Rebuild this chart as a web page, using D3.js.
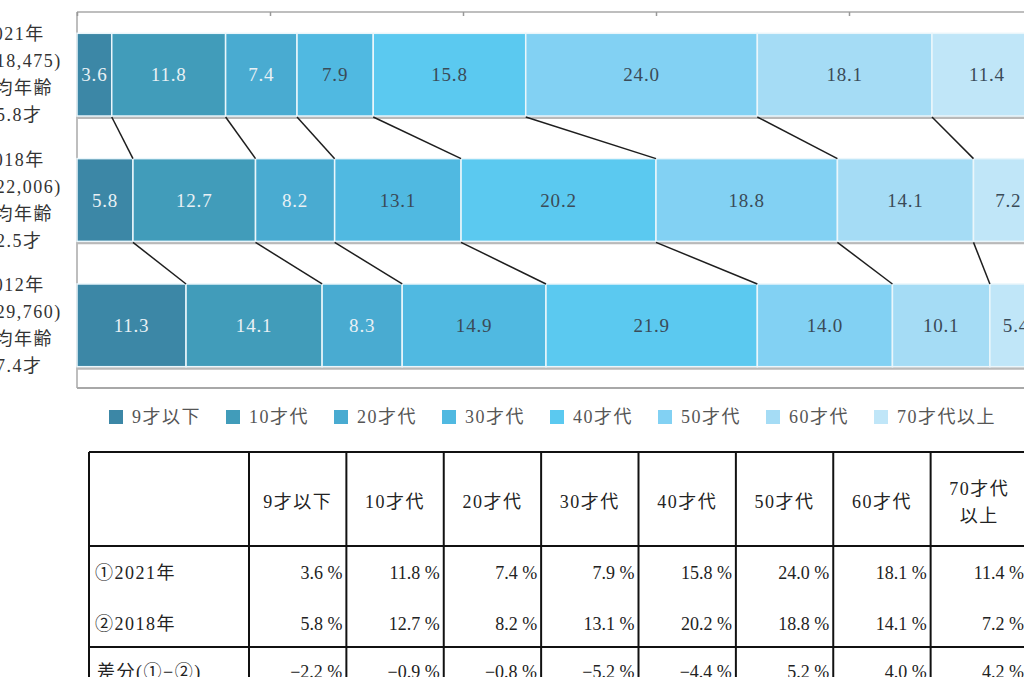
<!DOCTYPE html>
<html>
<head>
<meta charset="utf-8">
<script src="https://cdn.jsdelivr.net/npm/d3@7"></script>
<style>
  html, body { margin: 0; padding: 0; background: #fff; overflow: hidden; }
  svg { display: block; }
  text { font-family: "Liberation Serif", "Noto Sans CJK JP", serif; }
</style>
</head>
<body>
<svg id="chart" width="1024" height="677"></svg>
<script>
const categories = ['9才以下', '10才代', '20才代', '30才代', '40才代', '50才代', '60才代', '70才代以上'];
const headerLabels = [['9才以下'], ['10才代'], ['20才代'], ['30才代'], ['40才代'], ['50才代'], ['60才代'], ['70才代', '以上']];
const years = ['2021年', '2018年', '2012年'];
const sampleSizes = ['(n=18,475)', '(n=22,006)', '(n=29,760)'];
const meanAges = ['45.8才', '42.5才', '37.4才'];
const values2021 = [3.6, 11.8, 7.4, 7.9, 15.8, 24.0, 18.1, 11.4];
const values2018 = [5.8, 12.7, 8.2, 13.1, 20.2, 18.8, 14.1, 7.2];
const values2012 = [11.3, 14.1, 8.3, 14.9, 21.9, 14.0, 10.1, 5.4];
const diffValues = [-2.2, -0.9, -0.8, -5.2, -4.4, 5.2, 4.0, 4.2];
const tableRows = ['①2021年', '②2018年'];
const diffLabel = '差分(①−②)';
const xTicks = [0, 20, 40, 60, 80, 100];

const colors = ['#3c87a6', '#419cba', '#49abd1', '#50b9e1', '#5bc9f0', '#82d1f3', '#a5dcf5', '#c0e6f8'];

const series = [values2021, values2018, values2012];

const svg = d3.select('#chart');

// plot area
const plotLeft = 77, plotTop = 12, plotBottom = 388;
const xScale = d3.scaleLinear().domain([0, 100]).range([plotLeft, 1042]);
const yScale = d3.scaleBand().domain(years).range([plotTop, plotBottom]).paddingInner(0.34).paddingOuter(0.17);

// frame
svg.append('line').attr('x1', plotLeft).attr('x2', 1024).attr('y1', plotTop).attr('y2', plotTop)
  .attr('stroke', '#a8a8a8').attr('stroke-width', 1.5);
svg.append('line').attr('x1', plotLeft).attr('x2', 1024).attr('y1', plotBottom).attr('y2', plotBottom)
  .attr('stroke', '#a8a8a8').attr('stroke-width', 2);
svg.append('line').attr('x1', plotLeft).attr('x2', plotLeft).attr('y1', plotTop).attr('y2', plotBottom)
  .attr('stroke', '#a8a8a8').attr('stroke-width', 1.5);

const xAxis = d3.axisTop(xScale).tickValues(xTicks).tickSize(-4).tickFormat('');
const axisG = svg.append('g').attr('transform', `translate(0,${plotTop})`).call(xAxis);
axisG.select('.domain').remove();
axisG.selectAll('line').attr('stroke', '#999').attr('stroke-width', 1.5);

// bar shadow lines
svg.selectAll('.shadow').data(years).enter().append('line')
  .attr('class', 'shadow')
  .attr('x1', plotLeft).attr('x2', 1024)
  .attr('y1', d => yScale(d) + yScale.bandwidth() + 1.5)
  .attr('y2', d => yScale(d) + yScale.bandwidth() + 1.5)
  .attr('stroke', '#b9b9b9').attr('stroke-width', 3);

// stacked segments
const rows = years.map((y, i) => {
  let acc = 0;
  return series[i].map((v, j) => {
    const seg = { year: y, cat: j, value: v, x0: acc, x1: acc + v };
    acc += v;
    return seg;
  });
});

const rowG = svg.selectAll('.row').data(rows).enter().append('g').attr('class', 'row');

rowG.selectAll('rect').data(d => d).enter().append('rect')
  .attr('x', d => xScale(d.x0))
  .attr('y', d => yScale(d.year))
  .attr('width', d => xScale(d.x1) - xScale(d.x0))
  .attr('height', yScale.bandwidth())
  .attr('fill', d => colors[d.cat])
  .attr('stroke', '#eaf6fb')
  .attr('stroke-width', 1.5);

rowG.selectAll('text').data(d => d).enter().append('text')
  .attr('x', d => (xScale(d.x0) + xScale(d.x1)) / 2)
  .attr('y', d => yScale(d.year) + yScale.bandwidth() / 2)
  .attr('dy', '0.35em')
  .attr('text-anchor', 'middle')
  .attr('font-size', 19)
  .attr('letter-spacing', 0.8)
  .attr('fill', d => d.cat < 3 ? '#e9f1f5' : '#3a4b58')
  .text(d => d.value.toFixed(1));

// connector lines between boundaries
const links = [];
for (let i = 0; i < rows.length - 1; i++) {
  for (let j = 0; j < categories.length - 1; j++) {
    links.push({ from: rows[i][j], to: rows[i + 1][j] });
  }
}
svg.selectAll('.link').data(links).enter().append('line')
  .attr('class', 'link')
  .attr('x1', d => xScale(d.from.x1))
  .attr('y1', d => yScale(d.from.year) + yScale.bandwidth() + 1)
  .attr('x2', d => xScale(d.to.x1))
  .attr('y2', d => yScale(d.to.year))
  .attr('stroke', '#1e1e1e').attr('stroke-width', 1.5);

// left labels
years.forEach((y, i) => {
  const cy = yScale(y) + yScale.bandwidth() / 2;
  const lines = [y, sampleSizes[i], '平均年齢', meanAges[i]];
  svg.append('g').selectAll('text').data(lines).enter().append('text')
    .attr('x', 14)
    .attr('y', (d, k) => cy + (k - 1.5) * 27)
    .attr('dy', '0.35em')
    .attr('text-anchor', 'middle')
    .attr('font-size', 18)
    .attr('letter-spacing', 1.5)
    .attr('fill', '#333')
    .text(d => d);
});

// legend
const legend = svg.append('g').attr('transform', 'translate(109,417)');
let lx = 0;
categories.forEach((c, i) => {
  const g = legend.append('g').attr('transform', `translate(${lx},0)`);
  g.append('rect').attr('x', 0).attr('y', -7).attr('width', 14).attr('height', 14).attr('fill', colors[i]);
  const t = g.append('text').attr('x', 23).attr('y', 0).attr('dy', '0.35em')
    .attr('font-size', 18).attr('letter-spacing', 1.5).attr('fill', '#555').text(c);
  lx += 23 + t.node().getComputedTextLength() + 25;
});

// table
const tTop = 452, tHead = 546, tSep = 647, tBottom = 700;
const tLeft = 89;
const colScale = d3.scaleBand().domain(categories).range([249, 1028]);
const tbl = svg.append('g');

const hLines = [tTop, tHead, tSep];
tbl.selectAll('.hline').data(hLines).enter().append('line')
  .attr('x1', tLeft).attr('x2', 1024)
  .attr('y1', d => d).attr('y2', d => d)
  .attr('stroke', '#111').attr('stroke-width', 2);

const vLines = [tLeft].concat(categories.map(c => colScale(c)), [colScale.range()[1]]);
tbl.selectAll('.vline').data(vLines).enter().append('line')
  .attr('x1', d => d).attr('x2', d => d)
  .attr('y1', tTop).attr('y2', tBottom)
  .attr('stroke', '#111').attr('stroke-width', 2);

// header
categories.forEach((c, i) => {
  const lines = headerLabels[i];
  tbl.append('g').selectAll('text').data(lines).enter().append('text')
    .attr('x', colScale(c) + colScale.bandwidth() / 2)
    .attr('y', (d, k) => 502 + (k - (lines.length - 1) / 2) * 27)
    .attr('dy', '0.35em')
    .attr('text-anchor', 'middle')
    .attr('font-size', 18)
    .attr('letter-spacing', 1.5)
    .attr('fill', '#222')
    .text(d => d);
});

const fmt = v => (v < 0 ? '−' : '') + Math.abs(v).toFixed(1) + ' %';
const bodyRows = [
  { label: tableRows[0], values: values2021, y: 573, lx: 95 },
  { label: tableRows[1], values: values2018, y: 624, lx: 95 },
  { label: diffLabel, values: diffValues, y: 672, lx: 97 }
];
bodyRows.forEach(r => {
  tbl.append('text').attr('x', r.lx).attr('y', r.y).attr('dy', '0.35em')
    .attr('font-size', 18).attr('letter-spacing', 1.5).attr('fill', '#222').text(r.label);
  tbl.append('g').selectAll('text').data(r.values).enter().append('text')
    .attr('x', (d, i) => colScale(categories[i]) + colScale.bandwidth() - 4)
    .attr('y', r.y)
    .attr('dy', '0.35em')
    .attr('text-anchor', 'end')
    .attr('font-size', 18)
    .attr('fill', '#222')
    .text(d => fmt(d));
});
</script>
</body>
</html>
